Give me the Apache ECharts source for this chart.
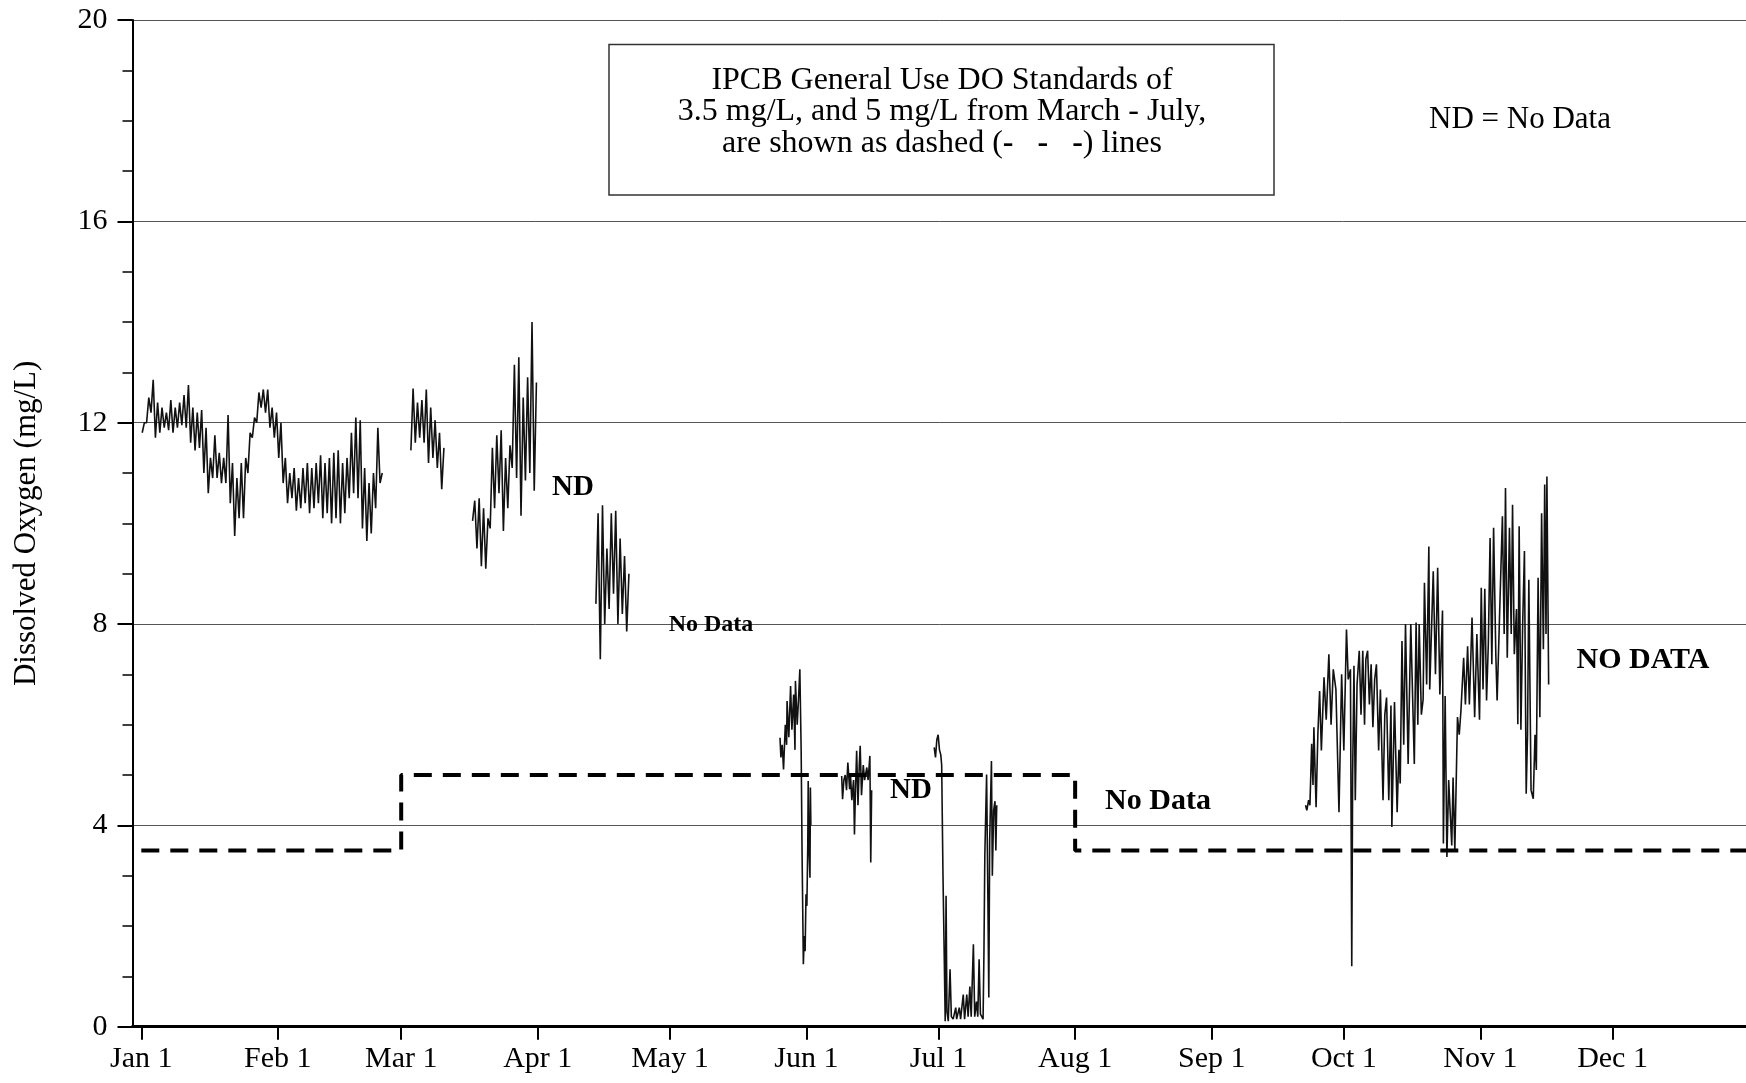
<!DOCTYPE html>
<html>
<head>
<meta charset="utf-8">
<script src="https://cdn.jsdelivr.net/npm/echarts@6/dist/echarts.min.js"></script>
<style>
html,body{margin:0;padding:0;background:#fff;}
#chart{width:1746px;height:1083px;}
</style>
</head>
<body>
<div id="chart"></div>
<script>
// ---- Axis categories / ticks ----
const monthDays = [0, 31, 59, 90, 120, 151, 181, 212, 243, 273, 304, 334];
const monthLabels = ['Jan 1','Feb 1','Mar 1','Apr 1','May 1','Jun 1','Jul 1','Aug 1','Sep 1','Oct 1','Nov 1','Dec 1'];
const yTicks = [0, 4, 8, 12, 16, 20];

// ---- Dissolved oxygen, daily high/low (mg/L) ----
const seg1Start = 0;
const seg1High = [12.0,12.5,12.85,12.4,12.3,12.2,12.45,12.3,12.4,12.55,
                  12.75,12.3,12.2,12.25,11.9,11.3,11.75,11.4,11.3,12.15,
                  11.2,10.9,11.2,11.3,11.8,12.1,12.6,12.66,12.66,12.3,
                  12.2,12.0,11.3,11.0,11.1,10.9,11.1,11.2,11.1,11.2,
                  11.35,11.2,11.3,11.4,11.45,11.2,11.3,11.8,12.1,12.05,
                  11.1,10.8,11.0,11.9,11.0];
const seg1Low  = [11.8,12.0,12.2,11.7,11.8,11.9,11.85,11.8,11.9,11.95,
                  11.9,11.6,11.45,11.5,11.0,10.6,10.9,10.9,10.8,10.8,
                  10.4,9.75,10.1,10.1,11.0,11.7,12.0,12.3,12.2,11.9,
                  11.7,11.3,10.8,10.4,10.5,10.25,10.3,10.4,10.2,10.3,
                  10.4,10.1,10.2,10.0,10.1,10.0,10.2,10.5,10.6,10.5,
                  9.9,9.65,9.8,10.3,10.8];
const seg2Start = 61;
const seg2High = [12.68,12.4,12.45,12.66,12.3,12.05,11.8,11.5];
const seg2Low  = [11.45,11.6,11.7,11.6,11.2,11.3,11.1,10.68];
const seg3Start = 75;
const seg3High = [10.45,10.5,10.3,10.1,11.5,11.75,11.85,11.3,11.55,13.15,13.3,12.5,12.9,14.0,12.8];
const seg3Low  = [10.05,9.5,9.15,9.1,9.9,10.3,10.6,9.85,10.3,11.1,10.9,10.15,10.85,11.0,10.65];
const seg4Start = 103;
const seg4High = [10.2,10.36,9.5,10.2,10.25,9.7,9.35,9.0];
const seg4Low  = [8.4,7.3,8.0,8.3,8.6,8.0,8.2,7.85];

// ---- segments read point by point: [day of year, DO mg/L] ----
const seg5 = [[145.0,5.74],[145.2,5.35],[145.5,5.6],[145.8,5.11],[146.2,6.0],[146.5,5.6],[146.6,6.47],[147.0,5.75],
  [147.4,6.77],[147.7,5.9],[148.1,6.6],[148.4,5.5],[148.5,6.87],[148.9,6.0],[149.2,6.5],[149.5,7.1],[149.8,5.5],
  [150.0,3.5],[150.3,1.24],[150.5,1.8],[150.7,1.5],[150.9,2.63],[151.1,2.4],[151.3,3.6],[151.4,4.88],[151.6,3.5],
  [151.8,2.96],[151.9,4.75],[152.0,4.0]];
const seg6 = [[159.0,4.98],[159.2,4.52],[159.5,4.9],[159.8,5.0],[160.1,4.7],[160.4,5.25],[160.8,4.72],[161.0,5.0],
  [161.3,4.5],[161.7,4.9],[161.9,3.82],[162.1,4.6],[162.4,5.48],[162.7,4.4],[163.0,5.2],[163.2,5.58],[163.5,4.6],
  [163.9,5.2],[164.2,4.9],[164.7,5.15],[165.0,4.9],[165.4,5.38],[165.6,3.26],[165.8,4.7]];
const seg7 = [[180.0,5.55],[180.3,5.35],[180.6,5.7],[180.9,5.8],[181.2,5.5],[181.5,5.4],[181.7,5.2],[182.0,3.0],
  [182.3,1.3],[182.5,0.11],[182.7,2.6],[182.9,0.3],[183.2,0.11],[183.6,1.14],[183.9,0.2],[184.3,0.15],[184.9,0.38],
  [185.1,0.15],[185.7,0.38],[186.0,0.15],[186.6,0.64],[186.9,0.15],[187.4,0.64],[187.7,0.2],[188.1,0.8],[188.4,0.2],
  [188.9,1.64],[189.2,0.2],[189.6,0.5],[189.9,0.2],[190.2,1.34],[190.5,0.25],[191.1,0.15],[191.3,1.5],[191.5,3.42],
  [191.9,5.01],[192.2,2.5],[192.4,0.58],[192.6,3.7],[193.0,5.28],[193.2,3.0],[193.5,4.3],[193.8,4.48],[194.0,3.5],[194.2,4.4]];
const seg8 = [[264.3,4.4],[264.6,4.3],[265.0,4.5],[265.3,4.4],[265.7,5.62],[266.0,4.8],[266.2,5.95],[266.7,4.36],
  [267.1,5.8],[267.5,6.67],[267.9,5.49],[268.5,6.94],[269.0,6.1],[269.6,7.4],[270.1,6.0],[270.6,7.1],[271.2,6.7],
  [271.9,4.26],[272.5,7.0],[273.0,5.49],[273.6,7.89],[274.0,6.9],[274.5,7.1],[274.8,1.2],[275.0,5.0],[275.3,7.17],
  [275.6,4.5],[276.0,6.8],[276.5,7.47],[276.9,6.2],[277.3,7.47],[277.7,6.0],[278.0,7.3],[278.4,7.47],[278.8,6.4],
  [279.2,7.2],[279.6,5.95],[280.0,6.9],[280.4,7.2],[280.9,5.49],[281.3,6.7],[281.9,4.5],[282.3,6.2],[282.7,6.54],
  [283.2,4.5],[283.7,6.38],[283.9,3.97],[284.5,6.45],[285.1,4.26],[285.5,5.5],[285.8,4.83],[286.2,7.66],[286.6,5.6],
  [287.0,8.0],[287.6,5.22],[288.2,8.0],[289.0,5.22],[289.4,8.03],[289.8,6.0],[290.1,8.0],[290.6,6.2],[291.0,6.5],
  [291.3,8.82],[291.8,6.8],[292.3,9.54],[292.5,6.7],[293.3,9.05],[293.8,7.0],[294.3,9.12],[294.8,6.6],[295.4,8.27],
  [295.6,3.64],[296.0,6.57],[296.4,3.37],[296.8,4.9],[297.2,4.92],[297.5,3.6],[297.8,4.95],[298.2,3.5],[298.8,6.15],
  [299.2,5.8],[299.6,6.3],[300.2,7.33],[300.6,6.4],[301.1,7.56],[301.5,6.4],[302.1,8.13],[302.7,6.15],[303.2,7.8],
  [303.8,6.1],[304.2,8.72],[304.6,6.7],[305.0,8.7],[305.4,6.48],[305.8,7.6],[306.2,9.71],[306.6,7.2],[307.0,9.91],
  [307.5,7.4],[307.8,6.48],[308.3,8.0],[309.0,10.14],[309.4,7.8],[309.7,10.7],[310.1,7.33],[310.6,9.91],[311.0,7.8],
  [311.3,10.37],[311.7,7.4],[312.2,8.3],[312.5,6.01],[312.8,9.94],[313.2,5.9],[313.6,8.0],[314.0,9.45],[314.4,4.63],
  [314.7,5.8],[315.0,8.88],[315.5,4.7],[316.0,4.53],[316.4,5.8],[316.7,5.1],[317.1,8.92],[317.5,6.15],[317.9,10.2],
  [318.3,7.5],[318.6,10.77],[318.9,7.8],[319.1,10.93],[319.5,6.8]];

// ---- IPCB standard (dashed) ----
const stdDays   = [0, 59, 59, 212, 212, 364.3];
const stdValues = [3.5, 3.5, 5, 5, 3.5, 3.5];

function fromDaily(start, high, low) {
  const pts = [];
  for (let i = 0; i < high.length; i++) {
    pts.push([start + i + 0.2, low[i]]);
    pts.push([start + i + 0.7, high[i]]);
  }
  return pts;
}

const segments = [
  fromDaily(seg1Start, seg1High, seg1Low),
  fromDaily(seg2Start, seg2High, seg2Low),
  fromDaily(seg3Start, seg3High, seg3Low),
  fromDaily(seg4Start, seg4High, seg4Low),
  seg5, seg6, seg7, seg8
];

const FONT = '"Liberation Serif", "Times New Roman", serif';

const series = segments.map(function (d) {
  return {
    type: 'line', data: d, showSymbol: false, silent: true,
    lineStyle: { color: '#111', width: 1.6 }, z: 2
  };
});
series.push({
  type: 'line', data: stdDays.map(function (d, i) { return [d, stdValues[i]]; }),
  showSymbol: false, silent: true,
  lineStyle: { color: '#000', width: 4, type: [18, 11] }, z: 3
});

const chart = echarts.init(document.getElementById('chart'), null, { renderer: 'canvas' });
chart.setOption({
  animation: false,
  backgroundColor: '#fff',
  grid: { left: 132.5, right: 0, top: 20, bottom: 56.3, containLabel: false },
  xAxis: {
    type: 'value', min: -2, max: 364.3,
    axisLine: { show: true, onZero: false, lineStyle: { color: '#000', width: 3 } },
    axisTick: { show: true, customValues: monthDays, length: 13, lineStyle: { color: '#000', width: 2 } },
    axisLabel: {
      customValues: monthDays, margin: 17, color: '#000', fontSize: 30, fontFamily: FONT,
      formatter: function (v) { const i = monthDays.indexOf(v); return i >= 0 ? monthLabels[i] : ''; }
    },
    splitLine: { show: false }
  },
  yAxis: {
    type: 'value', min: 0, max: 20, interval: 4,
    name: 'Dissolved Oxygen (mg/L)', nameLocation: 'middle', nameGap: 90,
    nameTextStyle: { color: '#000', fontSize: 31, fontFamily: FONT },
    axisLine: { show: true, onZero: false, lineStyle: { color: '#000', width: 2 } },
    axisTick: { show: true, length: 15, lineStyle: { color: '#000', width: 2 } },
    minorTick: { show: true, splitNumber: 4, length: 10, lineStyle: { color: '#000', width: 1.5 } },
    axisLabel: {
      margin: 25, color: '#000', fontSize: 30, fontFamily: FONT,
      formatter: function (v) { return yTicks.indexOf(v) >= 0 ? String(v) : ''; }
    },
    splitLine: { show: true, lineStyle: { color: '#555', width: 1 } }
  },
  graphic: [
    { type: 'rect', shape: { x: 609, y: 44.5, width: 665, height: 150.5 },
      style: { fill: 'none', stroke: '#333', lineWidth: 1.5 }, z: 10 },
    { type: 'text', x: 942, y: 112, z: 10,
      style: {
        text: 'IPCB General Use DO Standards of\n3.5 mg/L, and 5 mg/L from March - July,\nare shown as dashed ({b|-   -   -}) lines',
        font: '32px ' + FONT, fill: '#000', lineHeight: 31.5,
        align: 'center', verticalAlign: 'middle', textAlign: 'center', textVerticalAlign: 'middle',
        rich: { b: { fontWeight: 'bold', fontSize: 32, fontFamily: FONT, lineHeight: 31.5, fill: '#000' } }
      } },
    { type: 'text', x: 1520, y: 120, z: 10,
      style: { text: 'ND = No Data', font: '31px ' + FONT, fill: '#000',
        align: 'center', verticalAlign: 'middle', textAlign: 'center', textVerticalAlign: 'middle' } },
    { type: 'text', x: 573, y: 488, z: 10,
      style: { text: 'ND', font: 'bold 29px ' + FONT, fill: '#000',
        align: 'center', verticalAlign: 'middle', textAlign: 'center', textVerticalAlign: 'middle' } },
    { type: 'text', x: 711, y: 625, z: 10,
      style: { text: 'No Data', font: 'bold 24px ' + FONT, fill: '#000',
        align: 'center', verticalAlign: 'middle', textAlign: 'center', textVerticalAlign: 'middle' } },
    { type: 'text', x: 911, y: 791, z: 10,
      style: { text: 'ND', font: 'bold 29px ' + FONT, fill: '#000',
        align: 'center', verticalAlign: 'middle', textAlign: 'center', textVerticalAlign: 'middle' } },
    { type: 'text', x: 1158, y: 801, z: 10,
      style: { text: 'No Data', font: 'bold 30px ' + FONT, fill: '#000',
        align: 'center', verticalAlign: 'middle', textAlign: 'center', textVerticalAlign: 'middle' } },
    { type: 'text', x: 1643, y: 660, z: 10,
      style: { text: 'NO DATA', font: 'bold 30px ' + FONT, fill: '#000',
        align: 'center', verticalAlign: 'middle', textAlign: 'center', textVerticalAlign: 'middle' } }
  ],
  series: series
});
</script>
</body>
</html>
